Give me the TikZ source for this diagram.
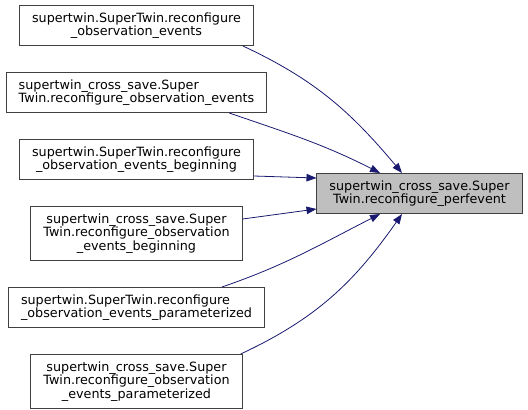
\documentclass[tikz,border=0pt]{standalone}
\usepackage{fontspec}
\setmainfont{DejaVu Sans}
\usetikzlibrary{arrows.meta,positioning,calc}
\definecolor{edgeblue}{HTML}{191970}
\definecolor{boxline}{HTML}{404040}
\definecolor{hitgray}{HTML}{BFBFBF}

\begin{document}
\begin{tikzpicture}[
  x=1pt, y=1pt,
  node distance=26pt,
  every node/.style={font=\fontsize{12.75}{13.6}\selectfont, align=center},
  box/.style={draw=boxline, line width=1pt, fill=white, inner xsep=12.5pt, inner ysep=2pt, minimum height=40pt},
  tallbox/.style={box, minimum height=54pt},
  call/.style={draw=edgeblue, line width=0.8pt},
  >={Triangle[length=10pt,width=7.5pt]}
]
\useasboundingbox (0,0) rectangle (528,-410);
% callers, one column
\node[box] (st) at (136.5,-25.5) {supertwin.SuperTwin.reconfigure\\\_observation\_events};
\node[box, align=left, below=of st] (cs) {supertwin\_cross\_save.Super\\Twin.reconfigure\_observation\_events};
\node[box, below=of cs] (stb) {supertwin.SuperTwin.reconfigure\\\_observation\_events\_beginning};
\node[tallbox, below=of stb] (csb) {supertwin\_cross\_save.Super\\Twin.reconfigure\_observation\\\_events\_beginning};
\node[box, align=left, below=of csb] (stp) {supertwin.SuperTwin.reconfigure\\\_observation\_events\_parameterized};
\node[tallbox, below=of stp] (csp) {supertwin\_cross\_save.Super\\Twin.reconfigure\_observation\\\_events\_parameterized};
% callee
\node[box, fill=hitgray] (perf) at (419.5,-193.5) {supertwin\_cross\_save.Super\\Twin.reconfigure\_perfevent};
\draw[call,->] ([xshift=-11pt]st.south east) to[out=-25, in=130] ([xshift=-17.5pt]perf.north);
\draw[call,->] ([xshift=-38pt]cs.south east) to[out=-19, in=153] ([xshift=-39.5pt]perf.north);
\draw[call,->] ([yshift=4pt]stb.south east) -- ([yshift=-5pt]perf.north west);
\draw[call,->] ([yshift=-13pt]csb.north east) -- ([yshift=5pt]perf.south west);
\draw[call,->] ([xshift=-43pt]stp.north east) to[out=19, in=-153] ([xshift=-39.5pt]perf.south);
\draw[call,->] ([xshift=-2pt]csp.north east) to[out=25, in=-125] ([xshift=-17.5pt]perf.south);
\end{tikzpicture}
\end{document}
